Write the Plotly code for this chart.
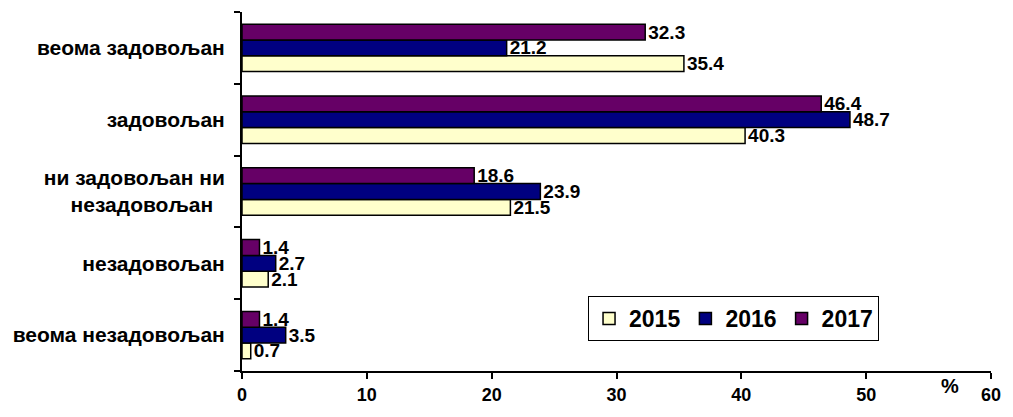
import plotly.graph_objects as go

categories = ["веома незадовољан", "незадовољан", "ни задовољан ни<br>незадовољан  ", "задовољан", "веома задовољан"]
v2015 = [0.7, 2.1, 21.5, 40.3, 35.4]
v2016 = [3.5, 2.7, 23.9, 48.7, 21.2]
v2017 = [1.4, 1.4, 18.6, 46.4, 32.3]
series = [("2015", v2015, "#FFFFCC"), ("2016", v2016, "#000080"), ("2017", v2017, "#660066")]
xticks = [0, 10, 20, 30, 40, 50, 60]

FONT = "Arial, Liberation Sans, sans-serif"
fig = go.Figure()
for name, vals, col in series:
    fig.add_trace(go.Bar(
        y=categories, x=vals, name=name, orientation="h",
        marker=dict(color=col, line=dict(color="black", width=1.5)),
        text=[f"{v:.1f}" for v in vals], textposition="outside", constraintext="none",
        textfont=dict(family=FONT, size=19, color="black", weight="bold"),
        cliponaxis=False,
    ))

fig.update_layout(
    width=1013, height=417,
    margin=dict(l=242, r=16, t=12, b=41),
    barmode="group", bargap=0.34, bargroupgap=0,
    plot_bgcolor="white", paper_bgcolor="white",
    font=dict(family=FONT, size=18, color="black", weight="bold"),
    showlegend=True,
    legend=dict(orientation="h", x=0.462, y=0.209, xanchor="left", yanchor="top",
                bordercolor="black", borderwidth=1, bgcolor="white",
                font=dict(size=23, weight="bold"), traceorder="normal",
                itemwidth=30),
    xaxis=dict(range=[0, 60], tickvals=xticks, ticktext=[str(t) for t in xticks],
               showgrid=False, zeroline=False, showline=True, linecolor="black", linewidth=2,
               ticks="outside", ticklen=6, tickwidth=2, tickcolor="black",
               tickfont=dict(size=18, weight="bold")),
    yaxis=dict(categoryorder="array", categoryarray=categories,
               showgrid=False, showline=True, linecolor="black", linewidth=2,
               ticks="outside", ticklen=6, tickwidth=2, tickcolor="black", tickson="boundaries",
               ticklabelstandoff=11,
               tickfont=dict(size=21, weight="bold")),
)
fig.add_annotation(text="%", xref="paper", yref="paper", x=(956 - 242) / 755, y=-0.005,
                   xanchor="center", yanchor="top", showarrow=False,
                   font=dict(size=20, weight="bold", family=FONT))
fig.write_html("out.html", config={"displayModeBar": False},
               post_script="document.body.style.margin='0';document.body.style.overflow='hidden';")
